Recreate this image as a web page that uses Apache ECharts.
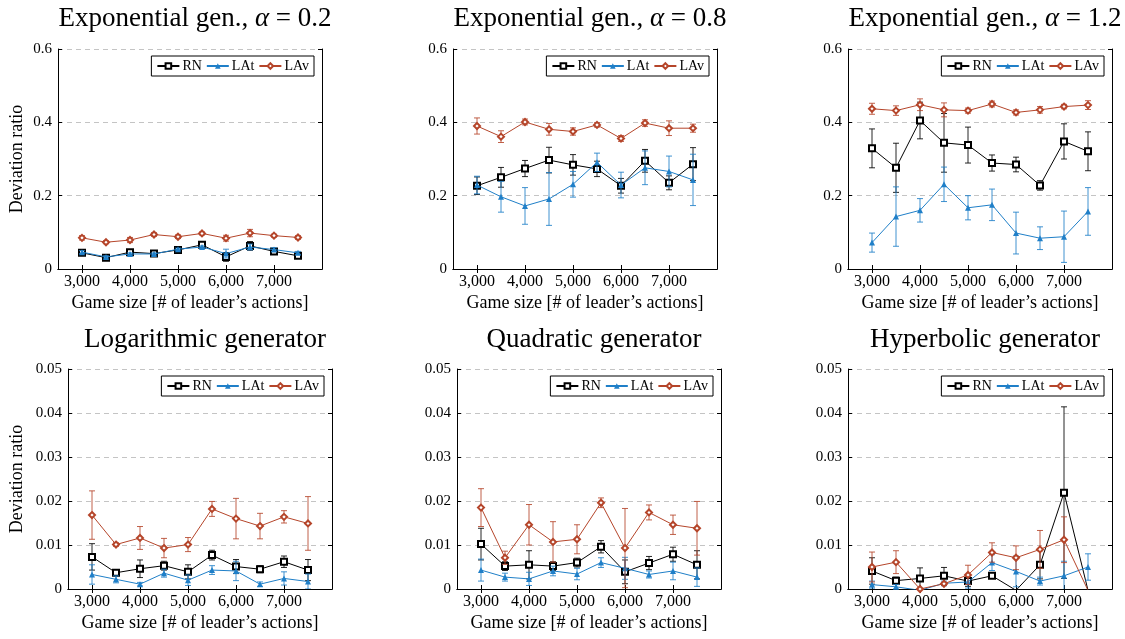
<!DOCTYPE html>
<html>
<head>
<meta charset="utf-8">
<script src="https://cdn.jsdelivr.net/npm/echarts@6/dist/echarts.min.js"></script>
<style>
html,body{margin:0;padding:0;background:#fff;}
#chart{width:1125px;height:639px;}
</style>
</head>
<body>
<div id="chart"></div>
<script>
// ---------- data ----------
const gameSizes = [3000, 3500, 4000, 4500, 5000, 5500, 6000, 6500, 7000, 7500];
const xTickValues = [3000, 4000, 5000, 6000, 7000];
const seriesNames = ['RN', 'LAt', 'LAv'];
const panelTitles = ['Exponential gen., {i|α} = 0.2', 'Exponential gen., {i|α} = 0.8', 'Exponential gen., {i|α} = 1.2',
                     'Logarithmic generator', 'Quadratic generator', 'Hyperbolic generator'];
const yTicksTop = [0, 0.2, 0.4, 0.6];
const yTicksBottom = [0, 0.01, 0.02, 0.03, 0.04, 0.05];

// Exponential alpha = 0.2
const exp02RN     = [0.044, 0.031, 0.046, 0.042, 0.052, 0.066, 0.033, 0.063, 0.048, 0.036];
const exp02RNErr  = [0.004, 0.004, 0.004, 0.003, 0.004, 0.004, 0.012, 0.012, 0.004, 0.004];
const exp02LAt    = [0.046, 0.033, 0.041, 0.041, 0.054, 0.060, 0.042, 0.060, 0.053, 0.044];
const exp02LAtErr = [0.004, 0.003, 0.003, 0.003, 0.003, 0.003, 0.012, 0.008, 0.005, 0.004];
const exp02LAv    = [0.085, 0.073, 0.079, 0.094, 0.088, 0.097, 0.084, 0.098, 0.091, 0.086];
const exp02LAvErr = [0.006, 0.004, 0.007, 0.005, 0.005, 0.004, 0.008, 0.010, 0.004, 0.005];

// Exponential alpha = 0.8
const exp08RN     = [0.227, 0.250, 0.274, 0.297, 0.284, 0.273, 0.227, 0.295, 0.235, 0.286];
const exp08RNErr  = [0.024, 0.027, 0.022, 0.035, 0.028, 0.021, 0.020, 0.031, 0.019, 0.045];
const exp08LAt    = [0.229, 0.197, 0.172, 0.191, 0.231, 0.291, 0.229, 0.276, 0.266, 0.243];
const exp08LAtErr = [0.024, 0.042, 0.050, 0.072, 0.035, 0.025, 0.035, 0.046, 0.042, 0.070];
const exp08LAv    = [0.390, 0.361, 0.401, 0.381, 0.375, 0.393, 0.356, 0.398, 0.384, 0.384];
const exp08LAvErr = [0.022, 0.016, 0.008, 0.016, 0.010, 0.006, 0.008, 0.009, 0.020, 0.011];

// Exponential alpha = 1.2
const exp12RN     = [0.329, 0.276, 0.405, 0.344, 0.338, 0.289, 0.285, 0.228, 0.348, 0.321];
const exp12RNErr  = [0.053, 0.067, 0.050, 0.080, 0.049, 0.022, 0.020, 0.013, 0.048, 0.053];
const exp12LAt    = [0.072, 0.143, 0.160, 0.231, 0.167, 0.175, 0.098, 0.084, 0.088, 0.157];
const exp12LAtErr = [0.026, 0.081, 0.032, 0.047, 0.033, 0.043, 0.057, 0.031, 0.070, 0.065];
const exp12LAv    = [0.437, 0.432, 0.448, 0.434, 0.432, 0.450, 0.427, 0.434, 0.443, 0.447];
const exp12LAvErr = [0.015, 0.013, 0.016, 0.019, 0.007, 0.008, 0.007, 0.009, 0.006, 0.012];

// Logarithmic generator
const logRN     = [0.0073, 0.0037, 0.0046, 0.0053, 0.0039, 0.0077, 0.0051, 0.0045, 0.0062, 0.0043];
const logRNErr  = [0.0030, 0.0005, 0.0020, 0.0010, 0.0016, 0.0011, 0.0016, 0.0008, 0.0013, 0.0024];
const logLAt    = [0.0033, 0.0022, 0.0011, 0.0036, 0.0020, 0.0043, 0.0041, 0.0011, 0.0024, 0.0017];
const logLAtErr = [0.0022, 0.0008, 0.0004, 0.0009, 0.0012, 0.0010, 0.0022, 0.0005, 0.0015, 0.0017];
const logLAv    = [0.0168, 0.0101, 0.0116, 0.0093, 0.0101, 0.0182, 0.0160, 0.0143, 0.0164, 0.0149];
const logLAvErr = [0.0055, 0.0004, 0.0026, 0.0022, 0.0016, 0.0017, 0.0046, 0.0029, 0.0014, 0.0061];

// Quadratic generator
const quadRN     = [0.0102, 0.0052, 0.0055, 0.0052, 0.0060, 0.0096, 0.0039, 0.0059, 0.0079, 0.0055];
const quadRNErr  = [0.0036, 0.0010, 0.0032, 0.0010, 0.0010, 0.0014, 0.0027, 0.0015, 0.0016, 0.0032];
const quadLAt    = [0.0043, 0.0027, 0.0023, 0.0041, 0.0034, 0.0060, 0.0047, 0.0033, 0.0041, 0.0027];
const quadLAtErr = [0.0025, 0.0009, 0.0015, 0.0011, 0.0013, 0.0011, 0.0025, 0.0008, 0.0020, 0.0021];
const quadLAv    = [0.0185, 0.0071, 0.0146, 0.0107, 0.0113, 0.0196, 0.0093, 0.0174, 0.0146, 0.0138];
const quadLAvErr = [0.0043, 0.0015, 0.0046, 0.0046, 0.0033, 0.0011, 0.0090, 0.0017, 0.0022, 0.0061];

// Hyperbolic generator
const hypRN     = [0.0041, 0.0019, 0.0024, 0.0030, 0.0018, 0.0030, -0.0003, 0.0055, 0.0219, -0.0003];
const hypRNErr  = [0.0030, 0.0008, 0.0024, 0.0019, 0.0012, 0.0005, 0, 0.0032, 0.0195, 0];
const hypLAt    = [0.0010, 0.0005, -0.0003, 0.0013, 0.0016, 0.0060, 0.0040, 0.0018, 0.0030, 0.0050];
const hypLAtErr = [0.0008, 0.0005, 0, 0.0005, 0.0014, 0.0018, 0.0035, 0.0009, 0.0033, 0.0030];
const hypLAv    = [0.0050, 0.0061, 0.0000, 0.0012, 0.0032, 0.0083, 0.0071, 0.0090, 0.0112, -0.0003];
const hypLAvErr = [0.0034, 0.0026, 0, 0.0003, 0.0022, 0.0022, 0.0027, 0.0043, 0.0052, 0];

// ---------- build ----------
const panelData = [
  [[exp02RN, exp02RNErr], [exp02LAt, exp02LAtErr], [exp02LAv, exp02LAvErr]],
  [[exp08RN, exp08RNErr], [exp08LAt, exp08LAtErr], [exp08LAv, exp08LAvErr]],
  [[exp12RN, exp12RNErr], [exp12LAt, exp12LAtErr], [exp12LAv, exp12LAvErr]],
  [[logRN, logRNErr], [logLAt, logLAtErr], [logLAv, logLAvErr]],
  [[quadRN, quadRNErr], [quadLAt, quadLAtErr], [quadLAv, quadLAvErr]],
  [[hypRN, hypRNErr], [hypLAt, hypLAtErr], [hypLAv, hypLAvErr]]
];

const FONT = 'Liberation Serif';
const colors = ['#000000', '#1f7fc8', '#b5452a'];
const symbols = ['emptyRect', 'triangle', 'emptyDiamond'];
const symbolSizes = [6, 6, 6];

const grids = [
  {left: 58, top: 49, width: 264, height: 220},
  {left: 453, top: 49, width: 264, height: 220},
  {left: 848, top: 49, width: 264, height: 220},
  {left: 68, top: 369, width: 264, height: 220},
  {left: 457, top: 369, width: 264, height: 220},
  {left: 848, top: 369, width: 264, height: 220}
];

const option = {
  animation: false,
  backgroundColor: '#fff',
  title: [], grid: [], xAxis: [], yAxis: [], legend: [], series: []
};

function fmtThousands(v) { return String(v).replace(/\B(?=(\d{3})+(?!\d))/g, ','); }
function fmtY(v) { return v === 0 ? '0' : String(Number(v.toFixed(3))); }

grids.forEach((g, p) => {
  const top = p < 3;
  const yTicks = top ? yTicksTop : yTicksBottom;
  const yMax = yTicks[yTicks.length - 1];
  const yInt = yTicks[1] - yTicks[0];
  option.grid.push({left: g.left, top: g.top, width: g.width, height: g.height, containLabel: false});
  option.title.push({
    text: panelTitles[p],
    left: g.left + g.width / 2,
    top: top ? 0 : 321,
    textAlign: 'center',
    textStyle: {fontFamily: FONT, fontSize: 27, fontWeight: 'normal', color: '#000',
      rich: {i: {fontFamily: FONT, fontSize: 27, fontStyle: 'italic', color: '#000'}}}
  });
  const axLine = {show: true, lineStyle: {color: '#000', width: 1}};
  const tick = {show: true, inside: true, length: 4, lineStyle: {color: '#000', width: 1}};
  option.xAxis.push({
    gridIndex: p, type: 'value', min: 2500, max: 8000, position: 'bottom',
    axisLine: axLine,
    axisTick: Object.assign({}, tick, {customValues: xTickValues}),
    axisLabel: {customValues: xTickValues, formatter: fmtThousands, fontFamily: FONT, fontSize: 16, color: '#000', margin: 5},
    splitLine: {show: false},
    name: 'Game size [# of leader’s actions]', nameLocation: 'middle', nameGap: 25,
    nameTextStyle: {fontFamily: FONT, fontSize: 18, color: '#000'}
  });
  option.xAxis.push({
    gridIndex: p, type: 'value', min: 2500, max: 8000, position: 'top',
    axisLine: axLine,
    axisTick: Object.assign({}, tick, {customValues: xTickValues}),
    axisLabel: {show: false}, splitLine: {show: false}
  });
  const yLeft = {
    gridIndex: p, type: 'value', min: 0, max: yMax, interval: yInt, position: 'left',
    axisLine: axLine, axisTick: tick,
    axisLabel: {formatter: fmtY, fontFamily: FONT, fontSize: 15, color: '#000', margin: 6},
    splitLine: {show: true, lineStyle: {color: '#c4c4c4', type: [5, 4], width: 1}}
  };
  if (p % 3 === 0) {
    yLeft.name = 'Deviation ratio';
    yLeft.nameLocation = 'middle';
    yLeft.nameGap = top ? 32 : 42;
    yLeft.nameTextStyle = {fontFamily: FONT, fontSize: 18, color: '#000'};
  }
  option.yAxis.push(yLeft);
  option.yAxis.push({
    gridIndex: p, type: 'value', min: 0, max: yMax, interval: yInt, position: 'right',
    axisLine: axLine, axisTick: tick, axisLabel: {show: false}, splitLine: {show: false}
  });
  option.legend.push({
    data: seriesNames,
    right: 1125 - (g.left + g.width - 8),
    top: g.top + 7,
    orient: 'horizontal',
    borderColor: '#000', borderWidth: 1, borderRadius: 0,
    padding: [3, 5, 3, 5],
    itemGap: 4, itemWidth: 22, itemHeight: 7,
    textStyle: {fontFamily: FONT, fontSize: 14, color: '#000', padding: [0, 0, 0, -2]},
    selectedMode: false
  });
  panelData[p].forEach((pair, s) => {
    const vals = pair[0], errs = pair[1];
    const color = colors[s];
    option.series.push({
      type: 'line', name: seriesNames[s],
      xAxisIndex: p * 2, yAxisIndex: p * 2,
      data: gameSizes.map((x, i) => [x, vals[i]]),
      symbol: symbols[s], symbolSize: symbolSizes[s], showAllSymbol: true,
      lineStyle: {color: color, width: 1},
      itemStyle: {color: color, borderWidth: 1},
      clip: true, z: 3 + s
    });
    option.series.push({
      type: 'custom', name: seriesNames[s] + ' error',
      xAxisIndex: p * 2, yAxisIndex: p * 2,
      data: gameSizes.map((x, i) => [x, vals[i] - errs[i], vals[i] + errs[i]]),
      clip: true, z: 3 + s, silent: true,
      renderItem: function (params, api) {
        if (api.value(2) - api.value(1) <= 0) return null;
        const lo = api.coord([api.value(0), api.value(1)]);
        const hi = api.coord([api.value(0), api.value(2)]);
        const st = {stroke: color, lineWidth: 1, opacity: 0.85};
        return {type: 'group', children: [
          {type: 'line', shape: {x1: lo[0], y1: lo[1], x2: hi[0], y2: hi[1]}, style: st},
          {type: 'line', shape: {x1: lo[0] - 3, y1: lo[1], x2: lo[0] + 3, y2: lo[1]}, style: st},
          {type: 'line', shape: {x1: hi[0] - 3, y1: hi[1], x2: hi[0] + 3, y2: hi[1]}, style: st}
        ]};
      }
    });
  });
});

const chart = echarts.init(document.getElementById('chart'), null, {renderer: 'canvas'});
chart.setOption(option);
</script>
</body>
</html>
